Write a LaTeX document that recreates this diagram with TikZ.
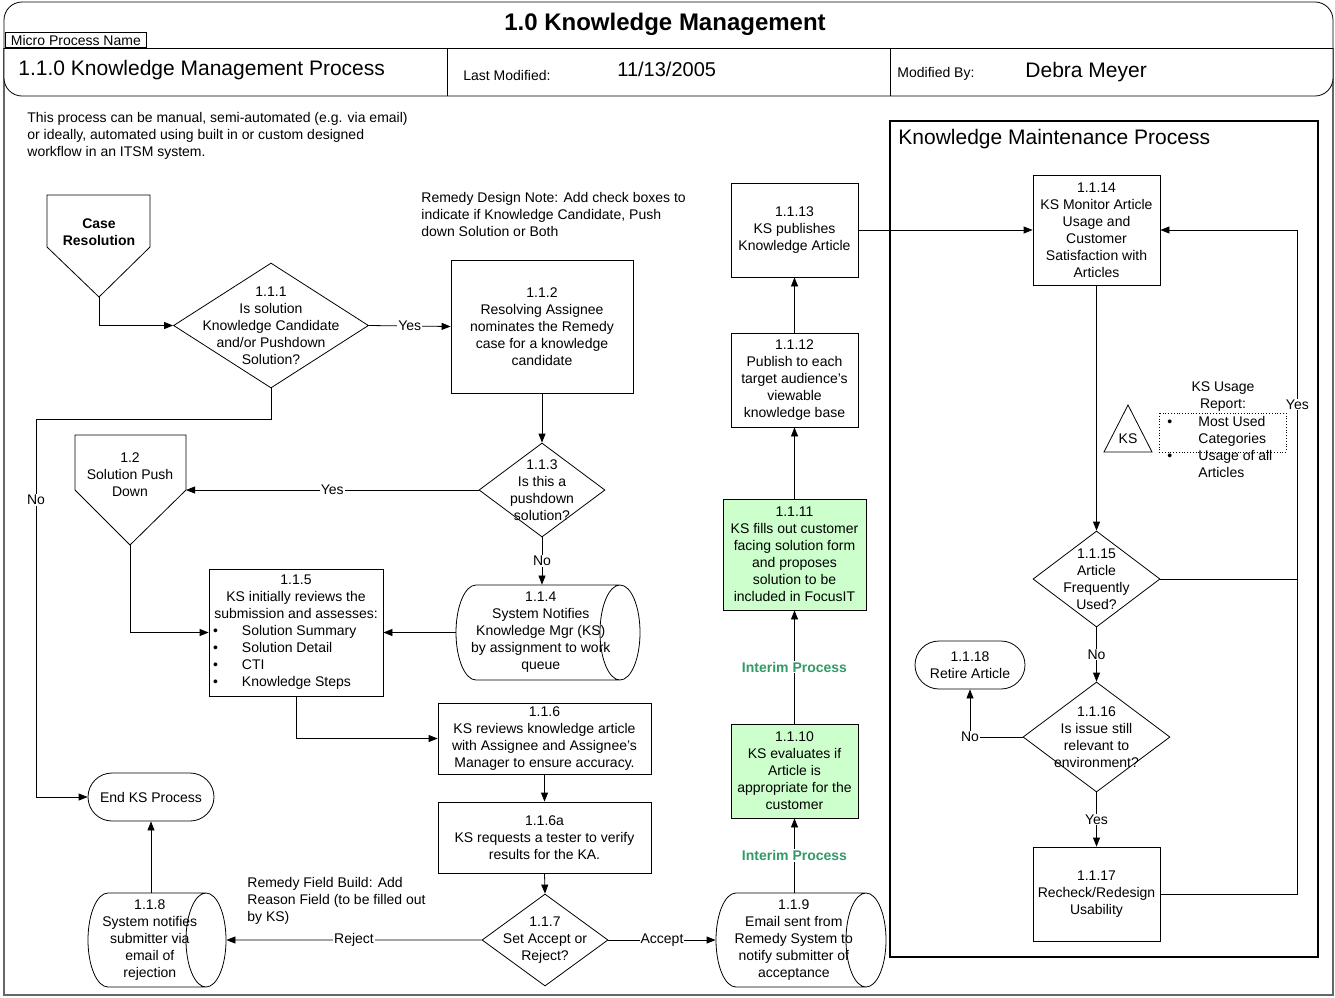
\documentclass[tikz,border=0pt]{standalone}
\usepackage{fontspec}
\setmainfont{Liberation Sans}
\usetikzlibrary{shapes.geometric,shapes.misc,arrows.meta}

\newcommand{\bodyfont}{\fontsize{14}{17}\selectfont}
\newcommand{\storestrut}{\rule{0pt}{80pt}}
\definecolor{kmgreen}{RGB}{204,255,204}
\definecolor{interimgreen}{RGB}{51,153,102}

\begin{document}
\begin{tikzpicture}[x=1pt, y=-1pt, line width=0.8pt, >={Triangle[length=9pt,width=7pt]},
        proc/.style = {draw, rectangle, align=center, inner sep=0pt, font=\bodyfont},
        greenproc/.style = {proc, fill=kmgreen},
        decision/.style = {draw, diamond, inner sep=0pt},
        inside/.style = {align=center, inner sep=0pt, font=\bodyfont},
        term/.style = {draw, rounded rectangle, align=center, inner sep=0pt, font=\bodyfont},
        store/.style = {draw, cylinder, shape aspect=0.5, inner sep=0pt, anchor=shape center},
        lbl/.style = {fill=white, inner sep=1pt, font=\bodyfont},
        interim/.style = {lbl, text=interimgreen, font=\bodyfont\bfseries},
        note/.style = {anchor=west, align=left, inner sep=0pt, font=\bodyfont}]
        \useasboundingbox (0,0) rectangle (1335,997);

        % header and frame
        \draw[line width=1.4pt, black!60] (4,48) -- (4,995) -- (1333,995) -- (1333,48);
        \draw[fill=white, rounded corners=18] (4,2) rectangle (1333,96);
        \draw (4,48) -- (1333,48);
        \draw (447,48) -- (447,96);
        \draw (890,48) -- (890,96);
        \node[draw, anchor=south west, minimum width=141, minimum height=15, inner sep=0pt, fill=white,
              font=\fontsize{14}{15}\selectfont] (mpn) at (5,48) {Micro Process Name};
        \node[font=\fontsize{24}{28}\selectfont\bfseries] (title) at (665,24) {1.0 Knowledge Management};
        \node[anchor=west, inner sep=0pt, font=\fontsize{21}{24}\selectfont] (procname) at (18,70) {1.1.0 Knowledge Management Process};
        \node[anchor=west, inner sep=0pt, font=\fontsize{14}{16}\selectfont] (lastmod) at (463,75) {Last Modified:};
        \node[anchor=west, inner sep=0pt, font=\fontsize{20}{24}\selectfont] (date) at (617,69) {11/13/2005};
        \node[anchor=west, inner sep=0pt, font=\fontsize{14}{16}\selectfont] (modby) at (897,74) {Modified By:};
        \node[anchor=west, inner sep=0pt, font=\fontsize{21}{24}\selectfont] (author) at (1025,72) {Debra Meyer};

        % notes
        \node[note] (intro) at (27,136) {This process can be manual, semi-automated (e.g. via email)\\or ideally, automated using built in or custom designed\\workflow in an ITSM system.};
        \node[note] (designnote) at (421,214) {Remedy Design Note: Add check boxes to\\indicate if Knowledge Candidate, Push\\down Solution or Both};
        \node[note] (fieldnote) at (247,901) {Remedy Field Build: Add\\Reason Field (to be filled out\\by KS)};

        % maintenance area
        \draw[line width=1.1pt] (890,121) rectangle (1318,957);
        \node[anchor=west, inner sep=0pt, font=\fontsize{21}{24}\selectfont] (maint) at (898,139) {Knowledge Maintenance Process};

        % off page connectors
        \draw (47,195) -- (150,195) -- (150,247) -- (99,297) coordinate (crp) -- (47,247) -- cycle;
        \node[inside, font=\bodyfont\bfseries] (caseres) at (99,232) {Case\\Resolution};
        \draw (75,435) -- (186,435) -- (186,490) coordinate (pushr) -- (130,545) coordinate (pushb) -- (75,490) -- cycle;
        \node[inside] (push) at (130,475) {1.2\\Solution Push\\Down};

        % main flow
        \node[decision, minimum width=195, minimum height=125,
              label={[inside]center:{1.1.1\\Is solution\\Knowledge Candidate\\and/or Pushdown\\Solution?}}] (d1) at (271,325.5) {};
        \node[proc, minimum width=182, minimum height=133] (b2) at (542,326.5) {1.1.2\\Resolving Assignee\\nominates the Remedy\\case for a knowledge\\candidate};
        \node[decision, minimum width=126, minimum height=94,
              label={[inside]center:{1.1.3\\Is this a\\pushdown\\solution?}}] (d3) at (542,490) {};
        \node[store, minimum height=184, minimum width=95,
              label={[inside, xshift=3]center:{1.1.4\\System Notifies\\Knowledge Mgr (KS)\\by assignment to work\\queue}}] (s4) at (548,632.5) {\storestrut};
        \node[proc, minimum width=174, minimum height=127] (b5) at (296,632.5) {1.1.5\\KS initially reviews the\\submission and assesses:\\
              \makebox[166pt][l]{\makebox[29pt][l]{\textbullet}Solution Summary}\\
              \makebox[166pt][l]{\makebox[29pt][l]{\textbullet}Solution Detail}\\
              \makebox[166pt][l]{\makebox[29pt][l]{\textbullet}CTI}\\
              \makebox[166pt][l]{\makebox[29pt][l]{\textbullet}Knowledge Steps}};
        \node[proc, minimum width=213, minimum height=71] (b6) at (544.5,738.5) {1.1.6\\KS reviews knowledge article\\with Assignee and Assignee's\\Manager to ensure accuracy.};
        \node[proc, minimum width=213, minimum height=71] (b6a) at (544.5,837.5) {1.1.6a\\KS requests a tester to verify\\results for the KA.};
        \node[decision, minimum width=126, minimum height=92,
              label={[inside]center:{1.1.7\\Set Accept or\\Reject?}}] (d7) at (545,940) {};
        \node[store, minimum height=138, minimum width=94,
              label={[inside, xshift=3]center:{1.1.8\\System notifies\\submitter via\\email of\\rejection}}] (s8) at (157,940) {\storestrut};
        \node[term, minimum width=126, minimum height=48] (tend) at (151,797) {End KS Process};
        \node[store, minimum height=170, minimum width=94,
              label={[inside, xshift=3]center:{1.1.9\\Email sent from\\Remedy System to\\notify submitter  of\\acceptance}}] (s9) at (801,940) {\storestrut};
        \node[greenproc, minimum width=127, minimum height=94] (b10) at (794.5,771) {1.1.10\\KS evaluates if\\Article is\\appropriate for the\\customer};
        \node[greenproc, minimum width=143, minimum height=111] (b11) at (794.5,554.5) {1.1.11\\KS fills out customer\\facing solution form\\and proposes\\solution to be\\included in FocusIT};
        \node[proc, minimum width=127, minimum height=94] (b12) at (794.5,380) {1.1.12\\Publish to each\\target audience's\\viewable\\knowledge base};
        \node[proc, minimum width=127, minimum height=94] (b13) at (794.5,230) {1.1.13\\KS publishes\\Knowledge Article};

        % maintenance flow
        \node[proc, minimum width=127, minimum height=110] (b14) at (1096.5,230) {1.1.14\\KS Monitor Article\\Usage and\\Customer\\Satisfaction with\\Articles};
        \node[decision, minimum width=127, minimum height=96,
              label={[inside]center:{1.1.15\\Article\\Frequently\\Used?}}] (d15) at (1096.5,579) {};
        \node[decision, minimum width=147, minimum height=110,
              label={[inside]center:{1.1.16\\Is issue still\\relevant to\\environment?}}] (d16) at (1096.5,737) {};
        \node[term, minimum width=110, minimum height=48] (t18) at (970,665) {1.1.18\\Retire Article};
        \node[proc, minimum width=127, minimum height=94] (b17) at (1096.5,894) {1.1.17\\Recheck/Redesign\\Usability};

        % usage report
        \draw (1128,405) -- (1152,452) -- (1104,452) -- cycle;
        \node[inside] (ks) at (1128,439) {KS};
        \node[inside] (ksrep) at (1223,397) {KS Usage\\Report:};
        \draw[dotted] (1159,413) rectangle (1286,452);
        \node[note] (kslist) at (1167,448.5) {\begin{tabular}{@{}p{31pt}@{}l@{}}
              \textbullet & Most Used\\ & Categories\\ \textbullet & Usage of all\\ & Articles\end{tabular}};

        % connectors
        \draw[->] (crp) |- (d1.west);
        \draw[->] (d1.east) -- node[lbl]{Yes} (b2.west);
        \draw[->] (b2.south) -- (d3.north);
        \draw[->] (d3.west) -- node[lbl]{Yes} (pushr);
        \draw[->] (d3.south) -- node[lbl]{No} (d3.south |- s4.north);
        \draw[->] (s4.west) -- (s4.west -| b5.east);
        \draw[->] (pushb) |- (b5.west);
        \draw[->] (d1.south) -- ++(0,31) -| node[lbl, pos=0.607]{No} (36,797) -- (tend.west);
        \draw[->] (b5.south) |- (b6.west);
        \draw[->] (b6.south) -- (b6a.north);
        \draw[->] (b6a.south) -- (d7.north);
        \draw[->] (d7.west) -- node[lbl]{Reject} (s8.east);
        \draw[->] (tend.south |- s8.north) -- (tend.south);
        \draw[->] (d7.east) -- node[lbl]{Accept} (s9.west);
        \draw[->] (s9.north -| b10.south) -- node[interim]{Interim Process} (b10.south);
        \draw[->] (b10.north) -- node[interim]{Interim Process} (b11.south);
        \draw[->] (b11.north) -- (b12.south);
        \draw[->] (b12.north) -- (b13.south);
        \draw[->] (b13.east) -- (b14.west);
        \draw[->] (b14.south) -- (d15.north);
        \draw[->] (d15.east) -- ++(137,0) coordinate (loop) |- node[lbl, pos=0.25]{Yes} (b14.east);
        \draw (b17.east) -| (loop);
        \draw[->] (d15.south) -- node[lbl]{No} (d16.north);
        \draw[->] (d16.west) -| node[lbl, pos=0.5]{No} (t18.south);
        \draw[->] (d16.south) -- node[lbl]{Yes} (b17.north);

    \end{tikzpicture}
\end{document}
